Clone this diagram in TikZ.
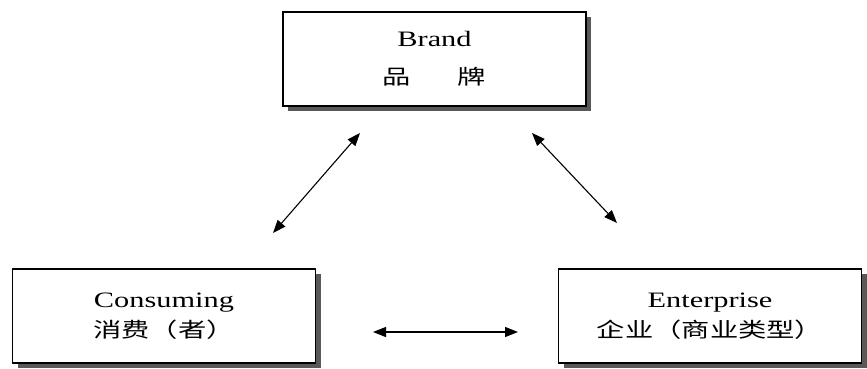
\documentclass[tikz,border=0pt]{standalone}
\usepackage{fontspec}
\setmainfont{Liberation Serif}[FakeStretch=1.38]
\newfontfamily\cjk{Noto Sans CJK SC}[FakeStretch=1.38]
\usetikzlibrary{arrows.meta,shadows}

\begin{document}
\begin{tikzpicture}[
  x=1pt, y=1pt,
  font=\fontsize{22}{30}\selectfont,
  box/.style={draw=black, line width=1.2pt, fill=white, align=center,
              minimum width=303pt, minimum height=94pt, inner sep=0pt,
              drop shadow={shadow xshift=5pt, shadow yshift=-5pt,
                           fill=black!65, opacity=1}},
  link/.style={{Triangle[length=13pt,width=10pt]}-{Triangle[length=13pt,width=10pt]},
               line width=1.1pt},
]
\useasboundingbox (0,0) rectangle (867,368);

% ---- boxes ----
\node[box] (brand) at (434.5,309) {Brand\\[8pt]{\cjk\fontsize{20.5}{30}\selectfont 品\hspace{47pt}牌}};
\node[box] (cons)  at (164,52)    {Consuming\\{\cjk\fontsize{20.5}{30}\selectfont 消费（者）}};
\node[box] (ent)   at (710,52)    {Enterprise\\{\cjk\fontsize{20.5}{30}\selectfont 企业（商业类型）}};

% ---- arrow ends ----
\coordinate (bl-top) at (360,235);
\coordinate (bl-bot) at (273,135);
\coordinate (br-top) at (532,235);
\coordinate (br-bot) at (617,145);
\coordinate (ce-l)   at (373,36);
\coordinate (ce-r)   at (518,36);

% ---- links ----
\draw[link] (bl-bot) -- (bl-top);
\draw[link] (br-top) -- (br-bot);
\draw[link] (ce-l) -- (ce-r);

\end{tikzpicture}
\end{document}
